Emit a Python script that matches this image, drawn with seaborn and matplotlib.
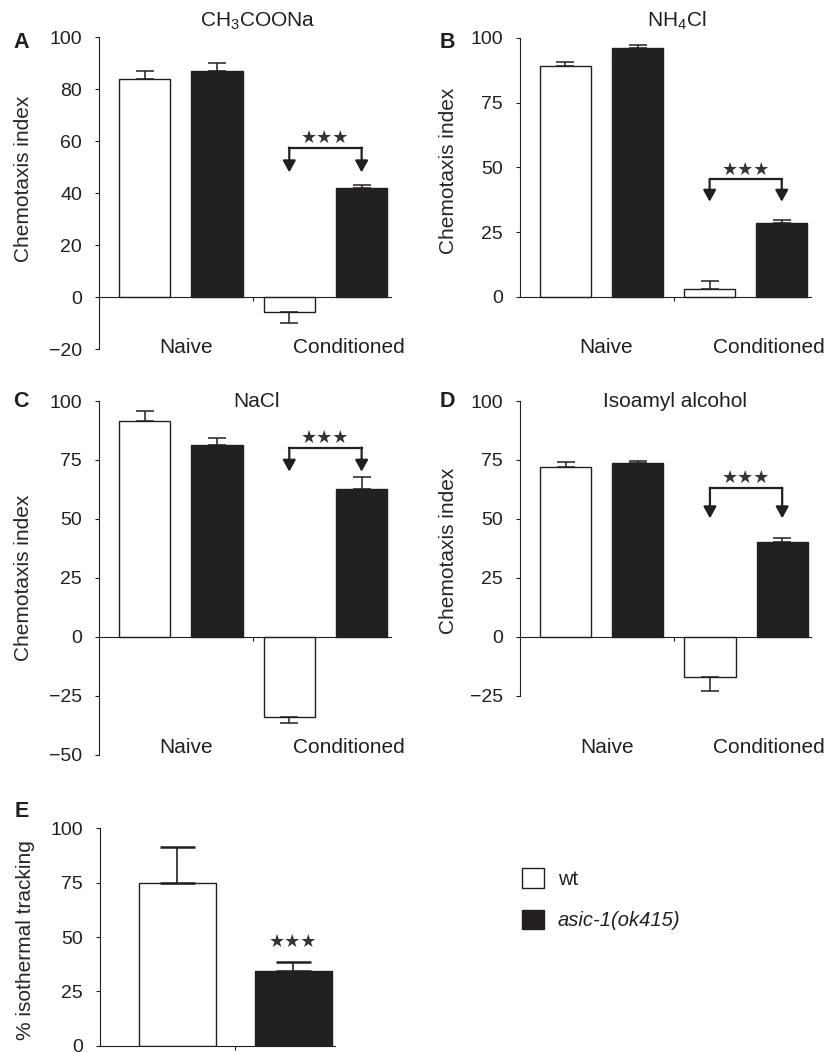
import matplotlib
matplotlib.use("Agg")
import matplotlib.pyplot as plt
import matplotlib.transforms as mtransforms
from matplotlib.patches import Patch
import seaborn as sns
import pandas as pd

# ---------------- data ----------------
conditions = ["Naive", "Conditioned"]
strains = ["wt", "asic-1(ok415)"]

# Panel A: CH3COONa
a_wt = [84.1, -5.8]
a_wt_err = [3.1, 4.0]
a_mut = [87.2, 42.0]
a_mut_err = [3.0, 1.2]

# Panel B: NH4Cl
b_wt = [89.2, 3.1]
b_wt_err = [1.5, 3.0]
b_mut = [96.1, 28.4]
b_mut_err = [1.3, 1.1]

# Panel C: NaCl
c_wt = [91.5, -34.1]
c_wt_err = [4.3, 2.7]
c_mut = [81.2, 62.5]
c_mut_err = [3.1, 5.4]

# Panel D: Isoamyl alcohol
d_wt = [72.1, -17.0]
d_wt_err = [2.0, 5.9]
d_mut = [73.7, 40.2]
d_mut_err = [1.0, 1.5]

# Panel E: isothermal tracking
e_strains = ["wt", "asic-1(ok415)"]
e_vals = [74.8, 34.5]
e_errs = [16.6, 4.1]

# significance annotations: (bracket level, arrow tip, star level)
a_sig = [57.5, 48.0, 61.1]
b_sig = [45.5, 36.7, 49.0]
c_sig = [80.2, 70.0, 84.2]
d_sig = [63.2, 50.2, 67.2]
e_star = 47.9

titles = ["CH$_3$COONa", "NH$_4$Cl", "NaCl", "Isoamyl alcohol"]
letters = ["A", "B", "C", "D", "E"]
ylabel_chemo = "Chemotaxis index"
ylabel_iso = "% isothermal tracking"
stars = "★★★"

# ---------------- style ----------------
INK = "#231f20"
sns.set_theme(style="ticks")
plt.rcParams["font.family"] = ["Liberation Sans", "DejaVu Sans"]
plt.rcParams["mathtext.fontset"] = "custom"
plt.rcParams["mathtext.rm"] = "Liberation Sans"
plt.rcParams["mathtext.it"] = "Liberation Sans:italic"
plt.rcParams["text.color"] = INK
plt.rcParams["axes.edgecolor"] = INK
plt.rcParams["xtick.color"] = INK
plt.rcParams["ytick.color"] = INK

W, H = 828, 1052
fig = plt.figure(figsize=(W / 100, H / 100), dpi=100)


def px_axes(left, top, right, bottom):
    return fig.add_axes([left / W, 1 - bottom / H, (right - left) / W, (bottom - top) / H])


palette = {strains[0]: "white", strains[1]: INK}


def chemo_panel(ax, wt, wt_err, mut, mut_err, sig, ylim, ticks, bounds,
                title, title_xy, ylab_xy, label_y):
    df = pd.DataFrame({
        "condition": conditions * 2,
        "strain": [strains[0]] * 2 + [strains[1]] * 2,
        "value": list(wt) + list(mut),
    })
    sns.barplot(data=df, x="condition", y="value", hue="strain",
                order=conditions, hue_order=strains, palette=palette,
                width=1.0, gap=0.29, errorbar=None, edgecolor=INK,
                linewidth=1.0, legend=False, ax=ax, zorder=2)
    errs = [wt_err, mut_err]
    vals = [wt, mut]
    bar_conts = list(ax.containers)
    centers = []
    for ci, cont in enumerate(bar_conts):
        row = []
        for bi, bar in enumerate(cont.patches):
            x = bar.get_x() + bar.get_width() / 2
            row.append(x)
            v = vals[ci][bi]
            e = errs[ci][bi]
            yerr = [[0], [e]] if v >= 0 else [[e], [0]]
            ax.errorbar([x], [v], yerr=yerr, fmt="none", ecolor=INK,
                        elinewidth=1.1, capsize=6.8, capthick=1.1, zorder=3)
        centers.append(row)
    # bracket with arrows
    xl, xr = centers[0][1], centers[1][1]
    by, ty, sy = sig
    ax.plot([xl, xr], [by, by], color=INK, lw=1.6, solid_capstyle="projecting", zorder=4)
    for xx in (xl, xr):
        ax.annotate("", xy=(xx, ty), xytext=(xx, by),
                    arrowprops=dict(arrowstyle="-|>,head_length=0.58,head_width=0.32",
                                    lw=1.6, color=INK, shrinkA=0, shrinkB=0), zorder=4)
    ax.text((xl + xr) / 2, sy, stars, ha="center", va="center",
            fontsize=13, color="#333333", family=["DejaVu Sans"])

    ax.set_xlim(-0.565, 1.453)
    ax.set_ylim(*ylim)
    ax.set_yticks(ticks)
    ax.set_xticks([0.5])
    ax.set_xticklabels([""])
    ax.spines["top"].set_visible(False)
    ax.spines["right"].set_visible(False)
    ax.spines["bottom"].set_position(("data", 0))
    ax.spines["left"].set_bounds(*bounds)
    for s in ("left", "bottom"):
        ax.spines[s].set_linewidth(0.8)
    ax.tick_params(axis="y", length=3, width=0.8, pad=9.3, labelsize=14)
    ax.tick_params(axis="x", length=3, width=0.8)
    ax.set_xlabel("")
    ax.set_ylabel(ylabel_chemo, fontsize=15, va="center")
    ax.yaxis.set_label_coords(*ylab_xy)
    ax.text(title_xy[0], title_xy[1], title, transform=ax.transAxes,
            ha="center", va="baseline", fontsize=15)
    trans = mtransforms.blended_transform_factory(ax.transData, ax.transAxes)
    ax.text(0.035, label_y, conditions[0], transform=trans, ha="center",
            va="baseline", fontsize=15)
    ax.text(1.16, label_y, conditions[1], transform=trans, ha="center",
            va="baseline", fontsize=15)


axA = px_axes(99, 37.3, 391, 349)
chemo_panel(axA, a_wt, a_wt_err, a_mut, a_mut_err, a_sig, (-20, 100),
            [-20, 0, 20, 40, 60, 80, 100], (-20, 100), titles[0],
            (0.543, 1.034), (-0.26, 0.545), -0.014)

axB = px_axes(520, 37.8, 811, 348.6)
chemo_panel(axB, b_wt, b_wt_err, b_mut, b_mut_err, b_sig, (-20, 100),
            [0, 25, 50, 75, 100], (0, 100), titles[1],
            (0.54, 1.036), (-0.244, 0.572), -0.014)

axC = px_axes(99, 401, 391, 754.5)
chemo_panel(axC, c_wt, c_wt_err, c_mut, c_mut_err, c_sig, (-50, 100),
            [-50, -25, 0, 25, 50, 75, 100], (-50, 100), titles[2],
            (0.54, 0.982), (-0.26, 0.50), 0.0034)

axD = px_axes(520, 401, 811.5, 754.5)
chemo_panel(axD, d_wt, d_wt_err, d_mut, d_mut_err, d_sig, (-50, 100),
            [-25, 0, 25, 50, 75, 100], (-25, 100), titles[3],
            (0.533, 0.982), (-0.244, 0.576), 0.0034)

# ---------------- panel E ----------------
axE = px_axes(100, 828.3, 335, 1045.7)
dfE = pd.DataFrame({"strain": e_strains, "value": e_vals})
sns.barplot(data=dfE, x="strain", y="value", hue="strain", order=e_strains,
            hue_order=e_strains, palette=palette, width=0.66, errorbar=None,
            edgecolor=INK, linewidth=1.0, legend=False, ax=axE, zorder=2)
ebars = [p for p in axE.patches]
ebars.sort(key=lambda p: p.get_x())
for bar, v, e in zip(ebars, e_vals, e_errs):
    x = bar.get_x() + bar.get_width() / 2
    axE.errorbar([x], [v], yerr=[[0], [e]], fmt="none", ecolor=INK,
                 elinewidth=1.2, capsize=12.6, capthick=1.8, zorder=3)
xb = ebars[1].get_x() + ebars[1].get_width() / 2
axE.text(xb, e_star, stars, ha="center", va="center", fontsize=13,
         color="#333333", family=["DejaVu Sans"])
axE.set_xlim(-0.666, 1.36)
axE.set_ylim(0, 100)
axE.set_yticks([0, 25, 50, 75, 100])
axE.set_xticks([0.5])
axE.set_xticklabels([""])
axE.spines["top"].set_visible(False)
axE.spines["right"].set_visible(False)
for s in ("left", "bottom"):
    axE.spines[s].set_linewidth(0.8)
axE.tick_params(axis="y", length=3, width=0.8, pad=9.3, labelsize=14)
axE.tick_params(axis="x", length=3, width=0.8)
axE.set_xlabel("")
axE.set_ylabel(ylabel_iso, fontsize=15, va="center")
axE.yaxis.set_label_coords(-0.319, 0.487)

# ---------------- panel letters ----------------
letter_pos = [(13, 42), (440, 42), (13, 401.5), (440, 401.5), (15, 811.5)]
for lt, (lx, ly) in zip(letters, letter_pos):
    fig.text(lx / W, 1 - ly / H, lt, fontsize=15.5, fontweight="bold",
             ha="left", va="center")

# ---------------- legend ----------------
handles = [Patch(facecolor="white", edgecolor=INK, linewidth=1.0),
           Patch(facecolor=INK, edgecolor=INK, linewidth=1.0)]
leg = fig.legend(handles, strains, loc="upper left",
                 bbox_to_anchor=(521.7 / W, 1 - 868.3 / H), frameon=False,
                 fontsize=14.5, handlelength=1.1, handleheight=1.1,
                 handletextpad=0.7, labelspacing=1.05, borderpad=0,
                 borderaxespad=0)
leg.get_texts()[1].set_style("italic")

fig.savefig("out.png", dpi=100)
